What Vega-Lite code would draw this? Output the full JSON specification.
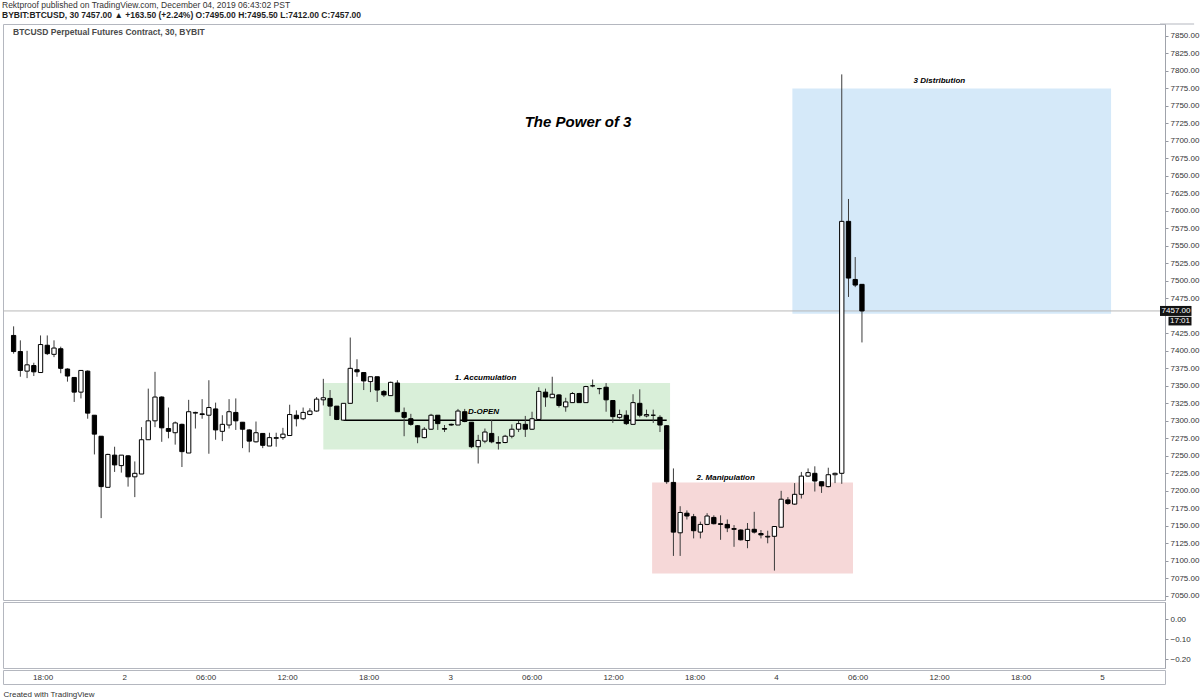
{
"$schema": "https://vega.github.io/schema/vega-lite/v6.json",
"background": "white",
"padding": {"left": 2, "top": 1, "right": 0, "bottom": 0},
"title": {"text": "Rektproof published on TradingView.com, December 04, 2019 06:43:02 PST", "subtitle": "BYBIT:BTCUSD, 30  7457.00 ▲ +163.50 (+2.24%)  O:7495.00  H:7495.50  L:7412.00  C:7457.00"},
"datasets": {
"candles": [
{"t":"2019-12-01T15:30:00Z","o":7422,"h":7435,"l":7396,"c":7399},
{"t":"2019-12-01T16:00:00Z","o":7399,"h":7415,"l":7363,"c":7372},
{"t":"2019-12-01T16:30:00Z","o":7371,"h":7400,"l":7361,"c":7380},
{"t":"2019-12-01T17:00:00Z","o":7379,"h":7383,"l":7364,"c":7370},
{"t":"2019-12-01T17:30:00Z","o":7369,"h":7422,"l":7369,"c":7409},
{"t":"2019-12-01T18:00:00Z","o":7408,"h":7422,"l":7394,"c":7396},
{"t":"2019-12-01T18:30:00Z","o":7395,"h":7415,"l":7391,"c":7404},
{"t":"2019-12-01T19:00:00Z","o":7403,"h":7406,"l":7368,"c":7375},
{"t":"2019-12-01T19:30:00Z","o":7374,"h":7375,"l":7356,"c":7364},
{"t":"2019-12-01T20:00:00Z","o":7362,"h":7362,"l":7327,"c":7341},
{"t":"2019-12-01T20:30:00Z","o":7341,"h":7372,"l":7332,"c":7372},
{"t":"2019-12-01T21:00:00Z","o":7371,"h":7372,"l":7303,"c":7311},
{"t":"2019-12-01T21:30:00Z","o":7308,"h":7308,"l":7252,"c":7281},
{"t":"2019-12-01T22:00:00Z","o":7278,"h":7278,"l":7161,"c":7206},
{"t":"2019-12-01T22:30:00Z","o":7205,"h":7253,"l":7205,"c":7252},
{"t":"2019-12-01T23:00:00Z","o":7251,"h":7263,"l":7227,"c":7237},
{"t":"2019-12-01T23:30:00Z","o":7236,"h":7251,"l":7226,"c":7251},
{"t":"2019-12-02T00:00:00Z","o":7250,"h":7251,"l":7206,"c":7220},
{"t":"2019-12-02T00:30:00Z","o":7220,"h":7242,"l":7191,"c":7225},
{"t":"2019-12-02T01:00:00Z","o":7224,"h":7291,"l":7224,"c":7273},
{"t":"2019-12-02T01:30:00Z","o":7273,"h":7346,"l":7273,"c":7300},
{"t":"2019-12-02T02:00:00Z","o":7300,"h":7370,"l":7291,"c":7334},
{"t":"2019-12-02T02:30:00Z","o":7334,"h":7335,"l":7270,"c":7290},
{"t":"2019-12-02T03:00:00Z","o":7289,"h":7319,"l":7275,"c":7285},
{"t":"2019-12-02T03:30:00Z","o":7283,"h":7299,"l":7266,"c":7297},
{"t":"2019-12-02T04:00:00Z","o":7295,"h":7296,"l":7234,"c":7256},
{"t":"2019-12-02T04:30:00Z","o":7254,"h":7330,"l":7254,"c":7313},
{"t":"2019-12-02T05:00:00Z","o":7311,"h":7313,"l":7289,"c":7312},
{"t":"2019-12-02T05:30:00Z","o":7310,"h":7331,"l":7303,"c":7309},
{"t":"2019-12-02T06:00:00Z","o":7308,"h":7358,"l":7253,"c":7319},
{"t":"2019-12-02T06:30:00Z","o":7317,"h":7326,"l":7273,"c":7287},
{"t":"2019-12-02T07:00:00Z","o":7285,"h":7308,"l":7271,"c":7295},
{"t":"2019-12-02T07:30:00Z","o":7294,"h":7331,"l":7289,"c":7313},
{"t":"2019-12-02T08:00:00Z","o":7312,"h":7332,"l":7287,"c":7300},
{"t":"2019-12-02T08:30:00Z","o":7298,"h":7298,"l":7261,"c":7288},
{"t":"2019-12-02T09:00:00Z","o":7287,"h":7288,"l":7255,"c":7271},
{"t":"2019-12-02T09:30:00Z","o":7270,"h":7299,"l":7269,"c":7283},
{"t":"2019-12-02T10:00:00Z","o":7282,"h":7282,"l":7261,"c":7265},
{"t":"2019-12-02T10:30:00Z","o":7264,"h":7283,"l":7264,"c":7276},
{"t":"2019-12-02T11:00:00Z","o":7275,"h":7283,"l":7263,"c":7276},
{"t":"2019-12-02T11:30:00Z","o":7276,"h":7290,"l":7273,"c":7281},
{"t":"2019-12-02T12:00:00Z","o":7279,"h":7323,"l":7279,"c":7309},
{"t":"2019-12-02T12:30:00Z","o":7308,"h":7315,"l":7292,"c":7303},
{"t":"2019-12-02T13:00:00Z","o":7303,"h":7319,"l":7301,"c":7312},
{"t":"2019-12-02T13:30:00Z","o":7309,"h":7318,"l":7308,"c":7314},
{"t":"2019-12-02T14:00:00Z","o":7314,"h":7334,"l":7313,"c":7331},
{"t":"2019-12-02T14:30:00Z","o":7330,"h":7360,"l":7322,"c":7333},
{"t":"2019-12-02T15:00:00Z","o":7332,"h":7344,"l":7307,"c":7321},
{"t":"2019-12-02T15:30:00Z","o":7321,"h":7321,"l":7301,"c":7302},
{"t":"2019-12-02T16:00:00Z","o":7301,"h":7325,"l":7301,"c":7325},
{"t":"2019-12-02T16:30:00Z","o":7325,"h":7419,"l":7325,"c":7375},
{"t":"2019-12-02T17:00:00Z","o":7373,"h":7388,"l":7363,"c":7370},
{"t":"2019-12-02T17:30:00Z","o":7369,"h":7369,"l":7344,"c":7357},
{"t":"2019-12-02T18:00:00Z","o":7356,"h":7363,"l":7341,"c":7363},
{"t":"2019-12-02T18:30:00Z","o":7363,"h":7363,"l":7327,"c":7344},
{"t":"2019-12-02T19:00:00Z","o":7342,"h":7344,"l":7334,"c":7337},
{"t":"2019-12-02T19:30:00Z","o":7336,"h":7356,"l":7336,"c":7355},
{"t":"2019-12-02T20:00:00Z","o":7354,"h":7358,"l":7313,"c":7313},
{"t":"2019-12-02T20:30:00Z","o":7312,"h":7319,"l":7278,"c":7305},
{"t":"2019-12-02T21:00:00Z","o":7303,"h":7310,"l":7293,"c":7295},
{"t":"2019-12-02T21:30:00Z","o":7293,"h":7294,"l":7268,"c":7277},
{"t":"2019-12-02T22:00:00Z","o":7276,"h":7291,"l":7275,"c":7288},
{"t":"2019-12-02T22:30:00Z","o":7288,"h":7310,"l":7287,"c":7308},
{"t":"2019-12-02T23:00:00Z","o":7308,"h":7308,"l":7287,"c":7296},
{"t":"2019-12-02T23:30:00Z","o":7289,"h":7294,"l":7284,"c":7288},
{"t":"2019-12-03T00:00:00Z","o":7295,"h":7296,"l":7293,"c":7294},
{"t":"2019-12-03T00:30:00Z","o":7294,"h":7317,"l":7294,"c":7314},
{"t":"2019-12-03T01:00:00Z","o":7313,"h":7317,"l":7298,"c":7299},
{"t":"2019-12-03T01:30:00Z","o":7298,"h":7298,"l":7261,"c":7263},
{"t":"2019-12-03T02:00:00Z","o":7263,"h":7280,"l":7239,"c":7272},
{"t":"2019-12-03T02:30:00Z","o":7271,"h":7289,"l":7268,"c":7284},
{"t":"2019-12-03T03:00:00Z","o":7282,"h":7301,"l":7268,"c":7270},
{"t":"2019-12-03T03:30:00Z","o":7268,"h":7278,"l":7259,"c":7269},
{"t":"2019-12-03T04:00:00Z","o":7269,"h":7280,"l":7268,"c":7278},
{"t":"2019-12-03T04:30:00Z","o":7278,"h":7295,"l":7275,"c":7288},
{"t":"2019-12-03T05:00:00Z","o":7288,"h":7300,"l":7284,"c":7296},
{"t":"2019-12-03T05:30:00Z","o":7295,"h":7307,"l":7277,"c":7288},
{"t":"2019-12-03T06:00:00Z","o":7288,"h":7313,"l":7287,"c":7303},
{"t":"2019-12-03T06:30:00Z","o":7302,"h":7348,"l":7302,"c":7342},
{"t":"2019-12-03T07:00:00Z","o":7341,"h":7346,"l":7320,"c":7334},
{"t":"2019-12-03T07:30:00Z","o":7333,"h":7363,"l":7333,"c":7338},
{"t":"2019-12-03T08:00:00Z","o":7337,"h":7338,"l":7319,"c":7322},
{"t":"2019-12-03T08:30:00Z","o":7320,"h":7333,"l":7313,"c":7327},
{"t":"2019-12-03T09:00:00Z","o":7326,"h":7341,"l":7326,"c":7339},
{"t":"2019-12-03T09:30:00Z","o":7339,"h":7340,"l":7326,"c":7326},
{"t":"2019-12-03T10:00:00Z","o":7326,"h":7350,"l":7326,"c":7349},
{"t":"2019-12-03T10:30:00Z","o":7350,"h":7359,"l":7348,"c":7350},
{"t":"2019-12-03T11:00:00Z","o":7346,"h":7347,"l":7338,"c":7346},
{"t":"2019-12-03T11:30:00Z","o":7348,"h":7354,"l":7313,"c":7330},
{"t":"2019-12-03T12:00:00Z","o":7329,"h":7329,"l":7297,"c":7306},
{"t":"2019-12-03T12:30:00Z","o":7305,"h":7316,"l":7303,"c":7309},
{"t":"2019-12-03T13:00:00Z","o":7308,"h":7315,"l":7294,"c":7296},
{"t":"2019-12-03T13:30:00Z","o":7295,"h":7338,"l":7295,"c":7326},
{"t":"2019-12-03T14:00:00Z","o":7325,"h":7345,"l":7305,"c":7308},
{"t":"2019-12-03T14:30:00Z","o":7307,"h":7316,"l":7305,"c":7309},
{"t":"2019-12-03T15:00:00Z","o":7308,"h":7316,"l":7297,"c":7308},
{"t":"2019-12-03T15:30:00Z","o":7305,"h":7308,"l":7284,"c":7294},
{"t":"2019-12-03T16:00:00Z","o":7293,"h":7294,"l":7210,"c":7213},
{"t":"2019-12-03T16:30:00Z","o":7212,"h":7232,"l":7107,"c":7141},
{"t":"2019-12-03T17:00:00Z","o":7140,"h":7178,"l":7107,"c":7169},
{"t":"2019-12-03T17:30:00Z","o":7168,"h":7172,"l":7159,"c":7164},
{"t":"2019-12-03T18:00:00Z","o":7163,"h":7167,"l":7132,"c":7143},
{"t":"2019-12-03T18:30:00Z","o":7141,"h":7156,"l":7132,"c":7152},
{"t":"2019-12-03T19:00:00Z","o":7152,"h":7168,"l":7151,"c":7164},
{"t":"2019-12-03T19:30:00Z","o":7162,"h":7165,"l":7152,"c":7153},
{"t":"2019-12-03T20:00:00Z","o":7153,"h":7165,"l":7130,"c":7152},
{"t":"2019-12-03T20:30:00Z","o":7152,"h":7159,"l":7141,"c":7147},
{"t":"2019-12-03T21:00:00Z","o":7146,"h":7151,"l":7120,"c":7145},
{"t":"2019-12-03T21:30:00Z","o":7144,"h":7145,"l":7129,"c":7130},
{"t":"2019-12-03T22:00:00Z","o":7129,"h":7154,"l":7118,"c":7145},
{"t":"2019-12-03T22:30:00Z","o":7145,"h":7170,"l":7139,"c":7141},
{"t":"2019-12-03T23:00:00Z","o":7139,"h":7144,"l":7132,"c":7137},
{"t":"2019-12-03T23:30:00Z","o":7134,"h":7143,"l":7125,"c":7135},
{"t":"2019-12-04T00:00:00Z","o":7135,"h":7149,"l":7086,"c":7149},
{"t":"2019-12-04T00:30:00Z","o":7148,"h":7200,"l":7148,"c":7188},
{"t":"2019-12-04T01:00:00Z","o":7187,"h":7191,"l":7180,"c":7182},
{"t":"2019-12-04T01:30:00Z","o":7181,"h":7211,"l":7180,"c":7195},
{"t":"2019-12-04T02:00:00Z","o":7195,"h":7227,"l":7189,"c":7221},
{"t":"2019-12-04T02:30:00Z","o":7221,"h":7232,"l":7220,"c":7226},
{"t":"2019-12-04T03:00:00Z","o":7225,"h":7235,"l":7199,"c":7214},
{"t":"2019-12-04T03:30:00Z","o":7213,"h":7213,"l":7197,"c":7207},
{"t":"2019-12-04T04:00:00Z","o":7206,"h":7233,"l":7205,"c":7223},
{"t":"2019-12-04T04:30:00Z","o":7223,"h":7226,"l":7211,"c":7225},
{"t":"2019-12-04T05:00:00Z","o":7225,"h":7795,"l":7210,"c":7585},
{"t":"2019-12-04T05:30:00Z","o":7585,"h":7617,"l":7477,"c":7504},
{"t":"2019-12-04T06:00:00Z","o":7502,"h":7534,"l":7491,"c":7494},
{"t":"2019-12-04T06:30:00Z","o":7495,"h":7495.5,"l":7412,"c":7457}
],
"zones": [
{"name":"accumulation","t1":"2019-12-02T14:30:00Z","t2":"2019-12-03T16:15:00Z","lo":7259,"hi":7354},
{"name":"manipulation","t1":"2019-12-03T14:55:00Z","t2":"2019-12-04T05:50:00Z","lo":7082,"hi":7212},
{"name":"distribution","t1":"2019-12-04T01:20:00Z","t2":"2019-12-05T01:00:00Z","lo":7453,"hi":7775}
],
"dopen": [{"t1":"2019-12-02T16:00:00Z","t2":"2019-12-03T16:00:00Z","p":7301}],
"headline": [{"label":"The Power of 3","t":"2019-12-03T09:25:00Z","p":7727}],
"notes": [
{"label":"3 Distribution","t":"2019-12-04T12:15:00Z","p":7785},
{"label":"1. Accumulation","t":"2019-12-03T02:33:00Z","p":7361},
{"label":"D-OPEN","t":"2019-12-03T02:24:00Z","p":7312},
{"label":"2. Manipulation","t":"2019-12-03T20:23:00Z","p":7219}
],
"symbolinfo": [{"label":"BTCUSD Perpetual Futures Contract, 30, BYBIT","t":"2019-12-01T15:05:00Z","p":7867}],
"frame": [{"t1":"2019-12-05T04:38:00Z","t2":"2019-12-05T07:10:00Z","p":7867}],
"lastprice": [{"label":"7457.00","clock":"17:01","t":"2019-12-05T04:38:00Z","p":7457}]
},
"spacing": 0,
"vconcat": [
{
"width": 1162,
"height": 576,
"encoding": {
"y": {"type": "quantitative", "title": null, "scale": {"domain": [7044, 7867], "nice": false, "zero": false},
"axis": {"orient": "right", "values": [7050,7075,7100,7125,7150,7175,7200,7225,7250,7275,7300,7325,7350,7375,7400,7425,7475,7500,7525,7550,7575,7600,7625,7650,7675,7700,7725,7750,7775,7800,7825,7850], "format": ".2f", "labelOverlap": false, "grid": false, "tickSize": 3, "tickColor": "#9598a1", "domainColor": "#a0a3ab", "labelColor": "#333333", "labelFontSize": 8, "labelPadding": 2, "labelFont": "Liberation Sans"}}
},
"layer": [
{
"data": {"name": "zones"},
"mark": {"type": "rect"},
"encoding": {
"x": {"field": "t1", "type": "temporal", "title": null, "axis": null, "scale": {"type": "utc", "domain": [{"year":2019,"month":12,"date":1,"hours":15,"minutes":5,"utc":true},{"year":2019,"month":12,"date":5,"hours":4,"minutes":38,"utc":true}]}},
"x2": {"field": "t2"},
"y": {"field": "lo"},
"y2": {"field": "hi"},
"color": {"field": "name", "type": "nominal", "legend": null, "scale": {"domain": ["accumulation","manipulation","distribution"], "range": ["#d9efd9","#f6d8d8","#d5e9f9"]}}
}
},
{
"data": {"name": "frame"},
"mark": {"type": "rule", "color": "#b4b7bf", "strokeWidth": 1},
"encoding": {
"x": {"field": "t1", "type": "temporal", "title": null, "axis": null},
"x2": {"field": "t2"},
"y": {"field": "p"}
}
},
{
"data": {"name": "lastprice"},
"mark": {"type": "rule", "color": "#b8b8b8", "strokeWidth": 1},
"encoding": {"y": {"field": "p"}}
},
{
"data": {"name": "dopen"},
"mark": {"type": "rule", "color": "#000000", "strokeWidth": 1.5},
"encoding": {
"x": {"field": "t1", "type": "temporal", "title": null, "axis": null},
"x2": {"field": "t2"},
"y": {"field": "p"}
}
},
{
"data": {"name": "candles"},
"mark": {"type": "rule", "color": "#3c3c3c", "strokeWidth": 1},
"encoding": {
"x": {"field": "t", "type": "temporal", "title": null, "axis": null},
"y": {"field": "l"},
"y2": {"field": "h"}
}
},
{
"data": {"name": "candles"},
"mark": {"type": "bar", "size": 4.3, "stroke": "#000000", "strokeWidth": 1},
"encoding": {
"x": {"field": "t", "type": "temporal", "title": null, "axis": null},
"y": {"field": "o"},
"y2": {"field": "c"},
"fill": {"condition": {"test": "datum.c >= datum.o", "value": "#ffffff"}, "value": "#000000"}
}
},
{
"data": {"name": "headline"},
"mark": {"type": "text", "font": "Liberation Sans", "fontSize": 15, "fontWeight": "bold", "fontStyle": "italic", "align": "center", "baseline": "middle", "color": "#000000"},
"encoding": {
"x": {"field": "t", "type": "temporal", "title": null, "axis": null},
"y": {"field": "p"},
"text": {"field": "label"}
}
},
{
"data": {"name": "notes"},
"mark": {"type": "text", "font": "Liberation Sans", "fontSize": 8, "fontWeight": "bold", "fontStyle": "italic", "align": "center", "baseline": "middle", "color": "#000000"},
"encoding": {
"x": {"field": "t", "type": "temporal", "title": null, "axis": null},
"y": {"field": "p"},
"text": {"field": "label"}
}
},
{
"data": {"name": "symbolinfo"},
"mark": {"type": "text", "font": "Liberation Sans", "fontSize": 8.5, "fontWeight": "bold", "align": "left", "baseline": "top", "dx": 5, "dy": 4, "color": "#4a4a4a"},
"encoding": {
"x": {"field": "t", "type": "temporal", "title": null, "axis": null},
"y": {"field": "p"},
"text": {"field": "label"}
}
},
{
"data": {"name": "lastprice"},
"mark": {"type": "point", "shape": "M0,-0.5H3.15V0.5H0Z", "filled": true, "color": "#131313", "opacity": 1, "size": 400, "strokeWidth": 0},
"encoding": {
"x": {"field": "t", "type": "temporal", "title": null, "axis": null},
"y": {"field": "p"}
}
},
{
"data": {"name": "lastprice"},
"mark": {"type": "point", "shape": "M0.85,0.58H3.15V1.45H0.85Z", "filled": true, "color": "#131313", "opacity": 1, "size": 400, "strokeWidth": 0},
"encoding": {
"x": {"field": "t", "type": "temporal", "title": null, "axis": null},
"y": {"field": "p"}
}
},
{
"data": {"name": "lastprice"},
"mark": {"type": "text", "font": "Liberation Sans", "fontSize": 8, "align": "center", "baseline": "middle", "dx": 16, "color": "#ffffff"},
"encoding": {
"x": {"field": "t", "type": "temporal", "title": null, "axis": null},
"y": {"field": "p"},
"text": {"field": "label"}
}
},
{
"data": {"name": "lastprice"},
"mark": {"type": "text", "font": "Liberation Sans", "fontSize": 8, "align": "center", "baseline": "middle", "dx": 20, "dy": 10, "color": "#ffffff"},
"encoding": {
"x": {"field": "t", "type": "temporal", "title": null, "axis": null},
"y": {"field": "p"},
"text": {"field": "clock"}
}
}
]
},
{
"width": 1162,
"height": 66,
"data": {"name": "candles"},
"mark": {"type": "point", "opacity": 0},
"encoding": {
"x": {"field": "t", "type": "temporal", "title": null, "axis": null,
"scale": {"type": "utc", "domain": [{"year":2019,"month":12,"date":1,"hours":15,"minutes":5,"utc":true},{"year":2019,"month":12,"date":5,"hours":4,"minutes":38,"utc":true}]}},
"y": {"datum": 0, "type": "quantitative", "title": null, "scale": {"domain": [-0.245, 0.085], "nice": false, "zero": false},
"axis": {"orient": "right", "values": [0, -0.1, -0.2], "format": ".2f", "labelOverlap": false, "grid": false, "tickSize": 3, "tickColor": "#9598a1", "domainColor": "#a0a3ab", "labelColor": "#333333", "labelFontSize": 8, "labelPadding": 2, "labelFont": "Liberation Sans"}}
}
},
{
"width": 1162,
"height": 14,
"data": {"name": "candles"},
"mark": {"type": "point", "opacity": 0},
"encoding": {
"x": {"field": "t", "type": "temporal", "title": "Created with TradingView",
"scale": {"type": "utc", "domain": [{"year":2019,"month":12,"date":1,"hours":15,"minutes":5,"utc":true},{"year":2019,"month":12,"date":5,"hours":4,"minutes":38,"utc":true}]},
"axis": {"values": [
{"year":2019,"month":12,"date":1,"hours":18,"utc":true},
{"year":2019,"month":12,"date":2,"hours":0,"utc":true},
{"year":2019,"month":12,"date":2,"hours":6,"utc":true},
{"year":2019,"month":12,"date":2,"hours":12,"utc":true},
{"year":2019,"month":12,"date":2,"hours":18,"utc":true},
{"year":2019,"month":12,"date":3,"hours":0,"utc":true},
{"year":2019,"month":12,"date":3,"hours":6,"utc":true},
{"year":2019,"month":12,"date":3,"hours":12,"utc":true},
{"year":2019,"month":12,"date":3,"hours":18,"utc":true},
{"year":2019,"month":12,"date":4,"hours":0,"utc":true},
{"year":2019,"month":12,"date":4,"hours":6,"utc":true},
{"year":2019,"month":12,"date":4,"hours":12,"utc":true},
{"year":2019,"month":12,"date":4,"hours":18,"utc":true},
{"year":2019,"month":12,"date":5,"hours":0,"utc":true}],
"labelExpr": "utchours(datum.value) == 0 ? '' + utcdate(datum.value) : utcFormat(datum.value, '%H:%M')",
"grid": false, "ticks": false, "domain": false, "labelColor": "#333333", "labelFontSize": 8, "labelPadding": -11, "labelFont": "Liberation Sans", "labelFlush": false, "labelOverlap": false,
"titleAnchor": "start", "titleAlign": "left", "titleFontSize": 8, "titleFontWeight": "normal", "titleColor": "#333333", "titlePadding": 6, "titleFont": "Liberation Sans"}}
}
}
],
"config": {
"font": "Liberation Sans",
"axis": {"labelOverlap": false},
"view": {"stroke": "#b4b7bf", "strokeWidth": 1},
"title": {"anchor": "start", "font": "Liberation Sans", "fontSize": 8.5, "fontWeight": "normal", "color": "#333333", "subtitleFont": "Liberation Sans", "subtitleFontSize": 8.5, "subtitleColor": "#1e1e1e", "subtitleFontWeight": "bold", "subtitlePadding": 1, "offset": 4}
}
}
